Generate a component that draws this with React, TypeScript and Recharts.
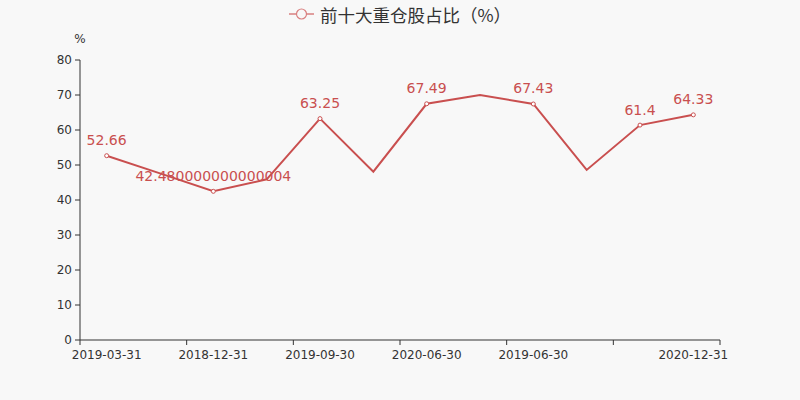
import React from "react";
import { LineChart, Line, XAxis, YAxis } from "recharts";

const categories = [
  "2019-03-31", "2019-12-31", "2018-12-31", "2020-03-31", "2019-09-30", "2018-06-30",
  "2020-06-30", "2018-09-30", "2019-06-30", "2017-12-31", "2020-09-30", "2020-12-31",
];
const values = [52.66, 47.6, 42.480000000000004, 45.9, 63.25, 48.1, 67.49, 70.0, 67.43, 48.6, 61.4, 64.33];
const symbolIdx = [0, 2, 4, 6, 8, 10, 11];
const tickLabelIdx = [0, 2, 4, 6, 8, 11];
const boundaryTicks = [-0.5, 1.5, 3.5, 5.5, 7.5, 9.5, 11.5];
const yTicks = [0, 10, 20, 30, 40, 50, 60, 70, 80];
const seriesName = "前十大重仓股占比（%）";
const yUnit = "%";

const RED = "#c94f4f";
const AXIS = "#333";
const FONT = "DejaVu Sans, sans-serif";

const data = categories.map((name, i) => ({ idx: i, name, value: values[i] }));

const renderDot = (props: any) => {
  const { cx, cy, index } = props;
  if (!symbolIdx.includes(index)) return <g key={`d${index}`} />;
  return <circle key={`d${index}`} cx={cx} cy={cy} r={2} fill="#fff" stroke={RED} strokeWidth={1} />;
};

const renderLabel = (props: any) => {
  const { x, y, value, index } = props;
  if (!symbolIdx.includes(index)) return <g key={`l${index}`} />;
  return (
    <text key={`l${index}`} x={x} y={y - 10.5} textAnchor="middle" fill={RED} fontSize={14} fontFamily={FONT}>
      {String(value)}
    </text>
  );
};

const emptyTick = () => <g />;

export default function App() {
  return (
    <div style={{ position: "absolute", left: 0, top: 0, width: 800, height: 400, background: "#f8f8f8" }}>
      <div
        style={{
          position: "absolute",
          left: 0,
          top: 0,
          width: 800,
          height: 28,
          display: "flex",
          justifyContent: "center",
          alignItems: "center",
          fontFamily: "Noto Sans CJK SC, sans-serif",
          fontSize: 17.5,
          color: "#333",
        }}
      >
        <svg width={25} height={14} style={{ marginRight: 6 }}>
          <line x1={0} y1={7} x2={25} y2={7} stroke="#d98080" strokeWidth={1.5} />
          <circle cx={12.5} cy={7} r={5} fill="#f8f8f8" stroke="#d98080" strokeWidth={1.2} />
        </svg>
        <span>{seriesName}</span>
      </div>
      <LineChart width={800} height={400} data={data} margin={{ top: 60, right: 80, bottom: 30, left: 0 }} style={{ position: "absolute", left: 0, top: 0 }}>
        <YAxis
          type="number"
          domain={[0, 80]}
          ticks={yTicks}
          width={80}
          tickSize={5}
          tickMargin={3}
          axisLine={{ stroke: AXIS }}
          tickLine={{ stroke: AXIS }}
          tick={{ fill: AXIS, fontSize: 12, fontFamily: FONT }}
          label={{
            content: (p: any) => {
              const vb = p.viewBox || { x: 0, y: 60, width: 80 };
              return (
                <text x={vb.x + vb.width} y={vb.y - 17} textAnchor="middle" fill={AXIS} fontSize={12} fontFamily={FONT}>
                  {yUnit}
                </text>
              );
            },
          }}
        />
        <XAxis
          xAxisId="a"
          dataKey="idx"
          type="number"
          domain={[-0.5, 11.5]}
          ticks={boundaryTicks}
          interval={0}
          height={1}
          tickSize={5}
          tick={emptyTick}
          axisLine={{ stroke: AXIS }}
          tickLine={{ stroke: AXIS }}
        />
        <XAxis
          xAxisId="b"
          dataKey="idx"
          type="number"
          domain={[-0.5, 11.5]}
          ticks={tickLabelIdx}
          height={29}
          tickSize={0}
          tickMargin={9}
          axisLine={false}
          tickLine={false}
          interval={0}
          tickFormatter={(v: number) => categories[v]}
          tick={{ fill: AXIS, fontSize: 12, fontFamily: FONT }}
        />
        <Line
          xAxisId="a"
          type="linear"
          dataKey="value"
          name={seriesName}
          stroke={RED}
          strokeWidth={2}
          dot={renderDot}
          activeDot={false}
          label={renderLabel}
          isAnimationActive={false}
        />
      </LineChart>
    </div>
  );
}
